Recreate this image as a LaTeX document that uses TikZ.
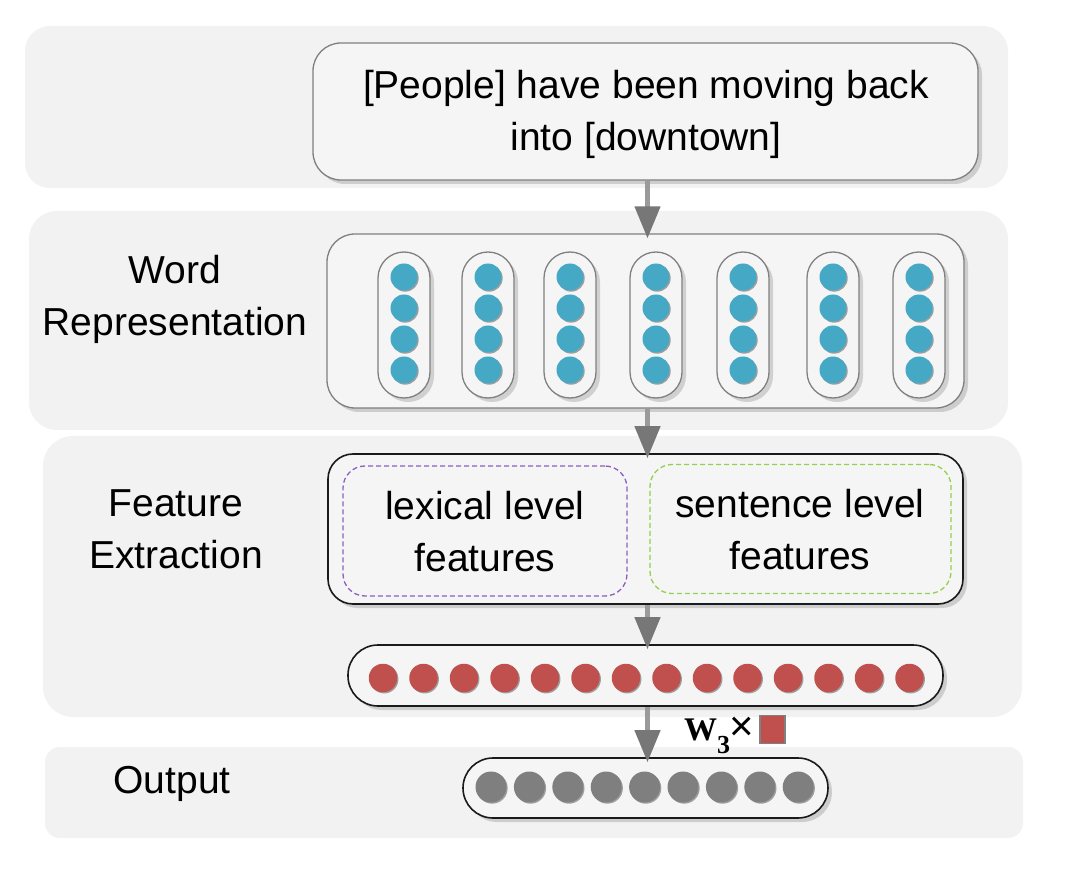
\documentclass[tikz,border=0pt]{standalone}
\usepackage{fontspec}
\setmainfont{Liberation Sans}
\newfontfamily\serifbold{Liberation Serif}
\usetikzlibrary{arrows.meta,shadows}
\definecolor{panel}{HTML}{F2F2F2}
\definecolor{boxfill}{HTML}{F5F5F5}
\definecolor{boxgray}{HTML}{808080}
\definecolor{boxdark}{HTML}{1A1A1A}
\definecolor{dotblue}{HTML}{45A8C5}
\definecolor{dotred}{HTML}{C0504D}
\definecolor{dotgray}{HTML}{7F7F7F}
\definecolor{lexpurple}{HTML}{8C5FC0}
\definecolor{sentgreen}{HTML}{92D050}
\definecolor{arrowgray}{HTML}{777777}
\definecolor{shaftgray}{HTML}{9A9A9A}
\begin{document}
\begin{tikzpicture}[x=1pt,y=-1pt,
  boxshadow/.style={drop shadow={shadow xshift=4pt,shadow yshift=-4pt,opacity=0.15,fill=black}},
  dotshadow/.style={drop shadow={shadow xshift=1.2pt,shadow yshift=-1.2pt,opacity=0.35,fill=black}},
  graybox/.style={draw=boxgray,line width=1.3pt,fill=boxfill,inner sep=0pt,boxshadow},
  darkbox/.style={draw=boxdark,line width=1.6pt,fill=boxfill,inner sep=0pt,boxshadow},
  lbl/.style={font=\fontsize{39}{52}\selectfont,align=center,inner sep=0pt},
  dashbox/.style={dashed,dash pattern=on 5pt off 3pt,line width=1.3pt,rounded corners=22pt,inner sep=0pt},
  pillbox/.style={graybox,rounded corners=26pt,minimum width=52pt,minimum height=146pt},
  bdot/.style={circle,fill=dotblue,minimum size=27pt,inner sep=0pt,dotshadow},
  rdot/.style={circle,fill=dotred,minimum size=28.5pt,inner sep=0pt,dotshadow},
  gdot/.style={circle,fill=dotgray,minimum size=31pt,inner sep=0pt,dotshadow},
  arr/.style={draw=shaftgray,line width=4.5pt,shorten >=-5pt,-{Triangle[width=25pt,length=32pt,color=arrowgray,fill=arrowgray]}},
  sqr/.style={fill=dotred,draw=boxgray,line width=1.5pt,minimum width=25pt,minimum height=28pt,inner sep=0pt}
]
\useasboundingbox (0,0) rectangle (1077,882);
\fill[white] (0,0) rectangle (1077,882);
% background panels
\fill[panel,rounded corners=25pt] (25,26) rectangle (1008,188);
\fill[panel,rounded corners=28pt] (29,211) rectangle (1008,430);
\fill[panel,rounded corners=30pt] (43,436) rectangle (1022,717);
\fill[panel,rounded corners=15pt] (45,747) rectangle (1023,838);

% left labels
\node[lbl] (lWord) at (175,299.6) {\strut Word\\\strut Representation};
\node[lbl] (lFeat) at (176,531.6) {\strut Feature\\\strut Extraction};
\node[lbl] (lOut) at (172,782.6) {\strut Output};

% sentence box
\node[graybox,rounded corners=28pt,minimum width=665pt,minimum height=137pt] (sent) at (645.5,111.5) {};
\node[lbl] (senttext) at (646,114.1) {\strut [People] have been moving back\\\strut into [downtown]};

% word representation
\node[graybox,rounded corners=28pt,minimum width=637pt,minimum height=174pt] (wordbox) at (645.5,321) {};
\foreach \x [count=\i] in {404,488,570,656,743,833,919}{
  \node[pillbox] (p\i) at (\x,325) {};
  \foreach \y [count=\j] in {277,308,339,370}{
    \node[bdot] (b\i-\j) at (\x,\y) {};
  }
}

% feature extraction
\node[darkbox,rounded corners=25pt,minimum width=635pt,minimum height=150pt] (featbox) at (645.5,529) {};
\node[draw=lexpurple,dashbox,minimum width=284pt,minimum height=130pt] (lex) at (485,531) {};
\node[draw=sentgreen,dashbox,minimum width=301pt,minimum height=129pt] (sentlev) at (800.5,529) {};
\node[lbl] (lextext) at (485,535) {\strut lexical level\\\strut features};
\node[lbl] (sentlevtext) at (800,533) {\strut sentence level\\\strut features};

% red vector
\node[darkbox,rounded corners=30pt,minimum width=595pt,minimum height=61pt] (redpill) at (645.5,675.5) {};
\foreach \i in {0,...,13}{
  \node[rdot] (r\i) at ({383+40.5*\i},678) {};
}

% output vector
\node[darkbox,rounded corners=30pt,minimum width=365pt,minimum height=60pt] (graypill) at (645.5,788) {};
\foreach \i in {0,...,8}{
  \node[gdot] (g\i) at ({491+38.4*\i},787) {};
}

% W3 x square label
\node[anchor=base west,inner sep=0pt] (wlab) at (684,740)
  {{\serifbold\bfseries\fontsize{33}{33}\selectfont W\raisebox{-13pt}{\fontsize{26}{26}\selectfont 3}}{\fontsize{42}{42}\selectfont\kern-1pt×}};
\node[sqr] (wsq) at (772.5,729.5) {};

% arrows
\draw[arr] ([xshift=2pt]sent.south) -- ([xshift=2pt]wordbox.north);
\draw[arr] ([xshift=2pt]wordbox.south) -- ([xshift=2pt]featbox.north);
\draw[arr] ([xshift=2pt]featbox.south) -- ([xshift=2pt]redpill.north);
\draw[arr] ([xshift=2pt]redpill.south) -- ([xshift=2pt]graypill.north);
\end{tikzpicture}
\end{document}
